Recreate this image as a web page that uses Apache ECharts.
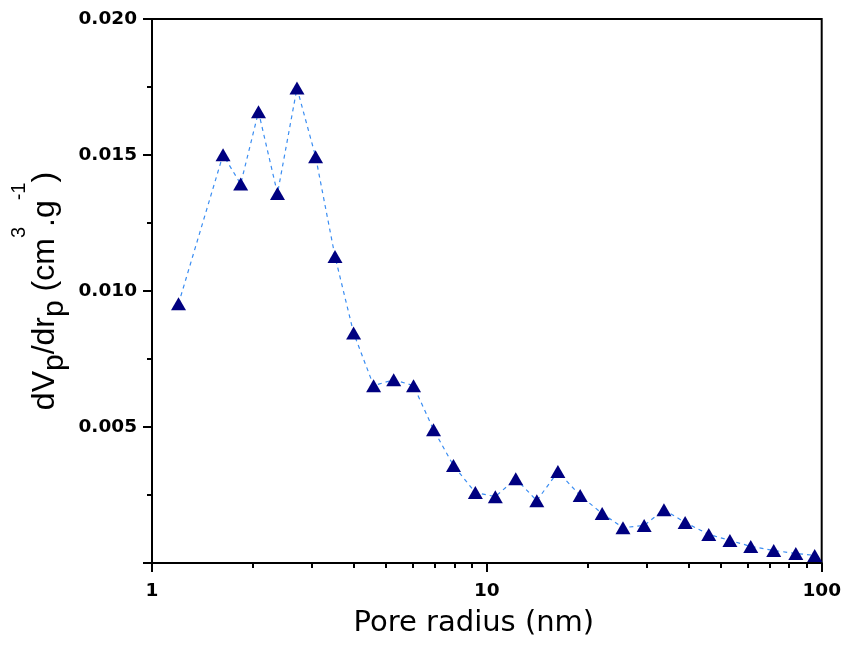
<!DOCTYPE html>
<html>
<head>
<meta charset="utf-8">
<script src="https://cdn.jsdelivr.net/npm/echarts@6/dist/echarts.min.js"></script>
<style>
  html, body { margin: 0; padding: 0; background: #fff; }
  #poreChart { width: 844px; height: 647px; }
</style>
</head>
<body>
<div id="poreChart"></div>
<script>
// pore radius (nm)
var poreRadius = [1.20, 1.63, 1.84, 2.08, 2.37, 2.71, 3.08, 3.52, 4.00, 4.59, 5.27,
  6.04, 6.93, 7.95, 9.24, 10.6, 12.2, 14.1, 16.3, 19.0, 22.1, 25.5, 29.5, 33.8,
  39.1, 46.0, 53.2, 61.4, 71.9, 83.7, 95.3];
// dVp/drp (cm3.g-1)
var dVdr = [0.00953, 0.01501, 0.01393, 0.01659, 0.01358, 0.01746, 0.01494, 0.01127,
  0.00846, 0.00652, 0.00674, 0.00652, 0.00490, 0.00358, 0.00259, 0.00244, 0.00310,
  0.00229, 0.00336, 0.00248, 0.00182, 0.00130, 0.00138, 0.00196, 0.00149, 0.00105,
  0.00083, 0.00061, 0.00046, 0.00035, 0.00028];
var xMajorTicks = [1, 10, 100];
var xMinorTicks = [2, 3, 4, 5, 6, 7, 8, 9, 20, 30, 40, 50, 60, 70, 80, 90];
var yTickLabels = [0.005, 0.010, 0.015, 0.020];

var points = poreRadius.map(function (r, i) { return [r, dVdr[i]]; });

var tickFont = {
  color: '#000',
  fontFamily: 'DejaVu Sans',
  fontWeight: 'bold',
  fontSize: 18.5
};

var chart = echarts.init(document.getElementById('poreChart'));
chart.setOption({
  animation: false,
  backgroundColor: '#fff',
  grid: {
    left: 152, right: 21, top: 19, bottom: 84,
    show: true,
    borderColor: '#000',
    borderWidth: 2,
    backgroundColor: 'transparent'
  },
  xAxis: [
    {
      type: 'log',
      logBase: 10,
      min: 1,
      max: 100,
      position: 'bottom',
      name: 'Pore radius (nm)',
      nameLocation: 'middle',
      nameGap: 46,
      nameTextStyle: {
        color: '#000',
        fontFamily: 'DejaVu Sans',
        fontSize: 29,
        padding: [0, 26, 0, 0]
      },
      axisLine: { show: true, lineStyle: { color: '#000', width: 2 } },
      axisTick: { show: true, inside: false, length: 9, customValues: xMajorTicks,
        lineStyle: { color: '#000', width: 2 } },
      axisLabel: Object.assign({ margin: 19, customValues: xMajorTicks }, tickFont),
      splitLine: { show: false }
    },
    {
      // minor ticks 2..9, 20..90
      type: 'log',
      logBase: 10,
      min: 1,
      max: 100,
      position: 'bottom',
      axisLine: { show: false },
      axisTick: { show: true, inside: false, length: 5, customValues: xMinorTicks,
        lineStyle: { color: '#000', width: 2 } },
      axisLabel: { show: false },
      splitLine: { show: false }
    }
  ],
  yAxis: {
    type: 'value',
    min: 0,
    max: 0.02,
    interval: 0.005,
    name: '{a|dV}{s|p}{a|/dr}{s|p}{a| (cm}{u|3}{a|.g}{u|-1}{a|)}',
    nameLocation: 'middle',
    nameRotate: 90,
    nameGap: 71,
    nameMoveOverlap: false,
    nameTextStyle: {
      color: '#000',
      rich: {
        a: { fontFamily: 'Liberation Sans', fontSize: 32, color: '#000' },
        s: { fontFamily: 'Liberation Sans', fontSize: 30, color: '#000', padding: [20, 0, 0, 0] },
        u: { fontFamily: 'Liberation Sans', fontSize: 20, color: '#000', padding: [0, 0, 52, 0] }
      }
    },
    axisLine: { show: true, lineStyle: { color: '#000', width: 2 } },
    axisTick: { show: true, inside: false, length: 9, lineStyle: { color: '#000', width: 2 } },
    minorTick: { show: true, splitNumber: 2, length: 5, lineStyle: { color: '#000', width: 2 } },
    axisLabel: Object.assign({
      margin: 15,
      customValues: yTickLabels,
      formatter: function (v) { return v.toFixed(3); }
    }, tickFont),
    splitLine: { show: false },
    minorSplitLine: { show: false }
  },
  series: [{
    type: 'line',
    data: points,
    xAxisIndex: 0,
    yAxisIndex: 0,
    symbol: 'triangle',
    symbolSize: [15, 13],
    itemStyle: { color: '#000080' },
    lineStyle: { color: '#3A8DF2', width: 1.2, type: [4, 4] },
    emphasis: { disabled: true }
  }]
});
</script>
</body>
</html>
